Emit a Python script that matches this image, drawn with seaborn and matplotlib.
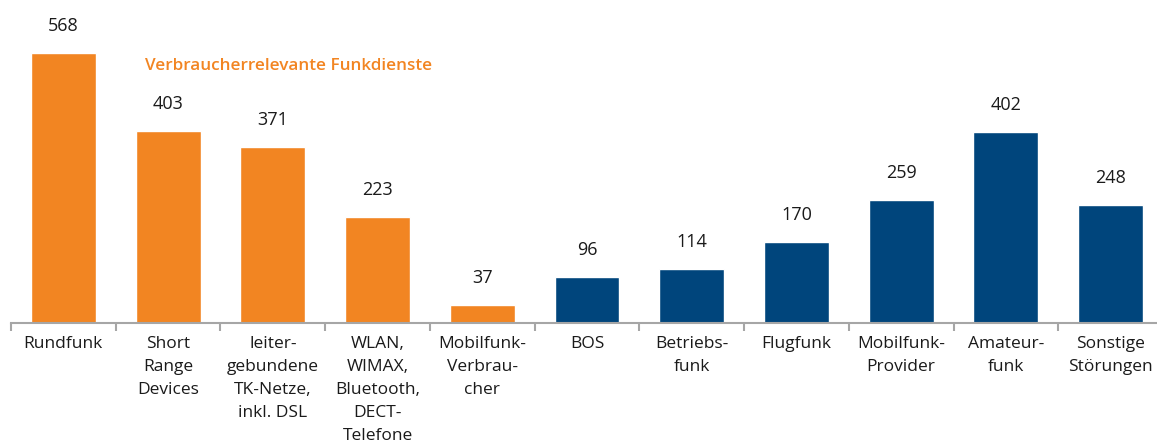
import matplotlib
matplotlib.use("Agg")
import numpy as np
import pandas as pd
import matplotlib.pyplot as plt
import seaborn as sns

# Kategorien und Werte
categories = [
    "Rundfunk",
    "Short\nRange\nDevices",
    "leiter-\ngebundene\nTK-Netze,\ninkl. DSL",
    "WLAN,\nWIMAX,\nBluetooth,\nDECT-\nTelefone",
    "Mobilfunk-\nVerbrau-\ncher",
    "BOS",
    "Betriebs-\nfunk",
    "Flugfunk",
    "Mobilfunk-\nProvider",
    "Amateur-\nfunk",
    "Sonstige\nStörungen",
]
values = [568, 403, 371, 223, 37, 96, 114, 170, 259, 402, 248]
consumer = [True, True, True, True, True, False, False, False, False, False, False]

ORANGE = "#F28522"
BLUE = "#00457C"

df = pd.DataFrame({"kategorie": categories, "anzahl": values})
palette = {c: (ORANGE if v else BLUE) for c, v in zip(categories, consumer)}

sns.set_theme(style="white")
plt.rcParams["font.family"] = ["Open Sans", "DejaVu Sans"]

W, H = 1157, 444
fig = plt.figure(figsize=(W / 100, H / 100), dpi=100)
ax = fig.add_axes([11 / W, 121 / H, 1152 / W, 309 / H])

sns.barplot(
    data=df,
    x="kategorie",
    y="anzahl",
    hue="kategorie",
    palette=palette,
    legend=False,
    width=0.62,
    saturation=1,
    ax=ax,
)

ax.set_xlim(-0.5, len(categories) - 0.5)
ax.set_ylim(0, 650)
ax.set_xlabel("")
ax.set_ylabel("")
ax.set_yticks([])

for s in ["top", "right", "left"]:
    ax.spines[s].set_visible(False)
ax.spines["bottom"].set_color("#A6A6A6")
ax.spines["bottom"].set_linewidth(1.5)

# Beschriftungen der Kategorien
ax.set_xticks(range(len(categories)))
ax.set_xticklabels(categories, fontsize=12.5, linespacing=1.6, color="#1a1a1a", va="top")
ax.tick_params(axis="x", which="major", length=0, pad=9)
ax.set_xticks(np.arange(-0.5, len(categories), 1), minor=True)
ax.tick_params(axis="x", which="minor", bottom=True, length=6, width=1.5,
               color="#A6A6A6", direction="out")

# Werte über den Balken
for i, v in enumerate(values):
    ax.annotate(str(v), (i, v), xytext=(0, 13), textcoords="offset points",
                ha="center", va="bottom", fontsize=13, color="#1a1a1a", clip_on=False)

ax.text(145 / W, (444 - 66) / H, "Verbraucherrelevante Funkdienste", transform=fig.transFigure,
        fontsize=12.3, color=ORANGE, fontweight="semibold", ha="left", va="center")

fig.savefig("out.png", dpi=100)
